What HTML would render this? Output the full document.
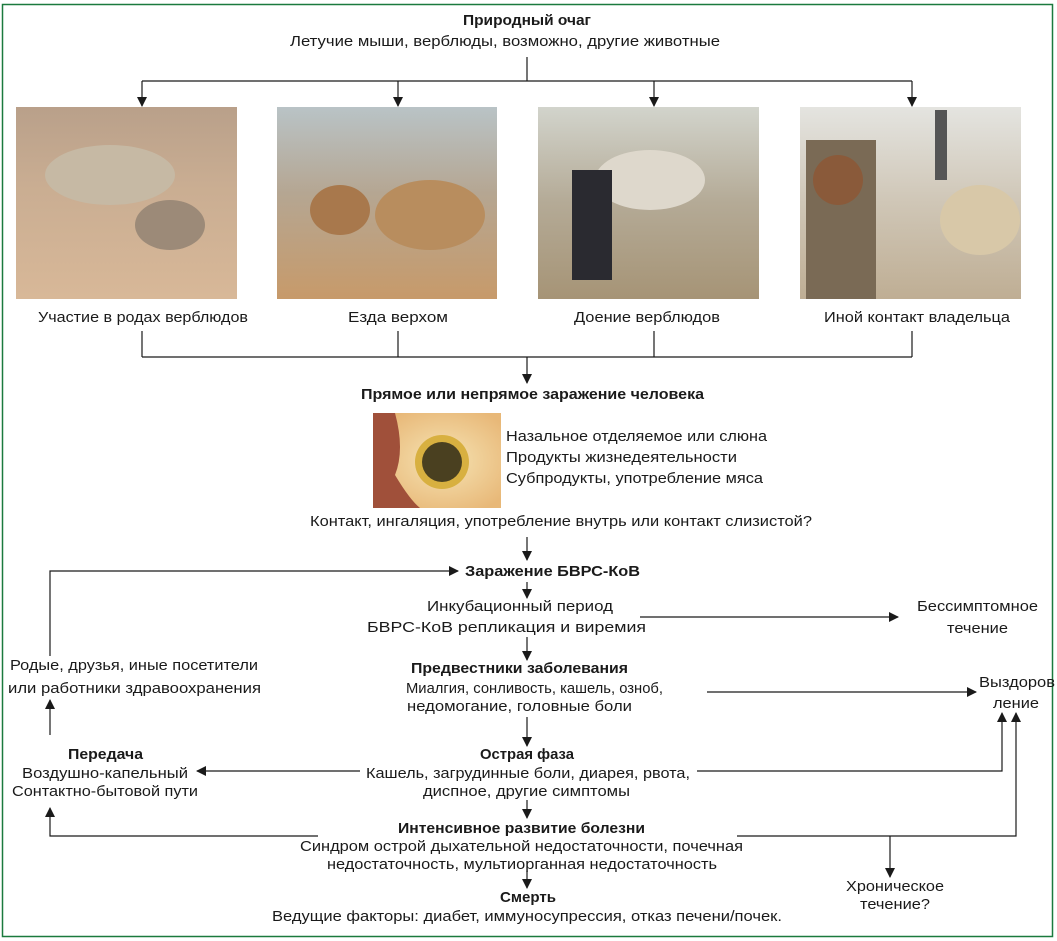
<!DOCTYPE html>
<html><head><meta charset="utf-8"><style>
html,body{margin:0;padding:0;background:#fff;width:1057px;height:941px;overflow:hidden}
text{font-family:"Liberation Sans","DejaVu Sans",sans-serif;font-size:15px;fill:#1a1a1a}
.b{font-weight:bold}
</style></head><body>
<svg width="1057" height="941" viewBox="0 0 1057 941" xmlns="http://www.w3.org/2000/svg">
<defs>
<marker id="a" markerWidth="10" markerHeight="10" refX="9" refY="5" orient="auto" markerUnits="userSpaceOnUse"><path d="M0,0 L10,5 L0,10 z" fill="#1a1a1a"/></marker>
<linearGradient id="g1" x1="0" y1="0" x2="0" y2="1"><stop offset="0" stop-color="#b9a08a"/><stop offset="0.4" stop-color="#c9ad92"/><stop offset="1" stop-color="#d8b898"/></linearGradient>
<linearGradient id="g2" x1="0" y1="0" x2="0" y2="1"><stop offset="0" stop-color="#b9c3c6"/><stop offset="0.45" stop-color="#b5a692"/><stop offset="1" stop-color="#c79a6a"/></linearGradient>
<linearGradient id="g3" x1="0" y1="0" x2="0" y2="1"><stop offset="0" stop-color="#d2d4cc"/><stop offset="0.5" stop-color="#b4aa96"/><stop offset="1" stop-color="#a69476"/></linearGradient>
<linearGradient id="g4" x1="0" y1="0" x2="0" y2="1"><stop offset="0" stop-color="#e4e4e0"/><stop offset="0.5" stop-color="#cfc6b6"/><stop offset="1" stop-color="#bfae94"/></linearGradient>
<radialGradient id="v" cx="0.55" cy="0.5" r="0.6"><stop offset="0" stop-color="#f6e4b4"/><stop offset="1" stop-color="#e8b878"/></radialGradient>
</defs>
<rect x="2.5" y="4.5" width="1050" height="932" fill="none" stroke="#1b7a3e" stroke-width="1.5"/>
<g stroke="#1a1a1a" stroke-width="1.2" fill="none">
<path d="M527,57 V81 M142,81 H912"/>
<path d="M142,81 V106" marker-end="url(#a)"/>
<path d="M398,81 V106" marker-end="url(#a)"/>
<path d="M654,81 V106" marker-end="url(#a)"/>
<path d="M912,81 V106" marker-end="url(#a)"/>
<path d="M142,331 V357 M398,331 V357 M654,331 V357 M912,331 V357 M142,357 H912"/>
<path d="M527,357 V383" marker-end="url(#a)"/>
<path d="M527,537 V560" marker-end="url(#a)"/>
<path d="M50,656 V571 H458" marker-end="url(#a)"/>
<path d="M527,582 V598" marker-end="url(#a)"/>
<path d="M640,617 H898" marker-end="url(#a)"/>
<path d="M527,637 V660" marker-end="url(#a)"/>
<path d="M707,692 H976" marker-end="url(#a)"/>
<path d="M50,735 V700" marker-end="url(#a)"/>
<path d="M527,717 V746" marker-end="url(#a)"/>
<path d="M360,771 H197" marker-end="url(#a)"/>
<path d="M697,771 H1002 V713" marker-end="url(#a)"/>
<path d="M527,800 V818" marker-end="url(#a)"/>
<path d="M318,836 H50 V808" marker-end="url(#a)"/>
<path d="M737,836 H1016 V713" marker-end="url(#a)"/>
<path d="M890,836 V877" marker-end="url(#a)"/>
<path d="M527,871 V888" marker-end="url(#a)"/>
</g>
<rect x="16" y="107" width="221" height="192" fill="url(#g1)"/>
<ellipse cx="110" cy="175" rx="65" ry="30" fill="#c6b9a4"/><ellipse cx="170" cy="225" rx="35" ry="25" fill="#9c8a78"/>
<rect x="277" y="107" width="220" height="192" fill="url(#g2)"/>
<ellipse cx="430" cy="215" rx="55" ry="35" fill="#b88d5e"/><ellipse cx="340" cy="210" rx="30" ry="25" fill="#a8784c"/>
<rect x="538" y="107" width="221" height="192" fill="url(#g3)"/>
<ellipse cx="650" cy="180" rx="55" ry="30" fill="#ded8cc"/><rect x="572" y="170" width="40" height="110" fill="#2a2a30"/>
<rect x="800" y="107" width="221" height="192" fill="url(#g4)"/>
<rect x="806" y="140" width="70" height="159" fill="#7a6a55"/><circle cx="838" cy="180" r="25" fill="#8a5a3a"/><ellipse cx="980" cy="220" rx="40" ry="35" fill="#d8c8a8"/><rect x="935" y="110" width="12" height="70" fill="#555"/>
<rect x="373" y="413" width="128" height="95" fill="url(#v)"/>
<path d="M373,413 H395 Q405,450 395,475 Q410,500 420,508 H373 Z" fill="#a0503a"/>
<circle cx="442" cy="462" r="27" fill="#d8b040"/><circle cx="442" cy="462" r="20" fill="#4a4020"/>
<text x="463" y="25" class="b" textLength="128" lengthAdjust="spacingAndGlyphs">Природный очаг</text>
<text x="290" y="46" textLength="430" lengthAdjust="spacingAndGlyphs">Летучие мыши, верблюды, возможно, другие животные</text>
<text x="38" y="322" textLength="210" lengthAdjust="spacingAndGlyphs">Участие в родах верблюдов</text>
<text x="348" y="322" textLength="100" lengthAdjust="spacingAndGlyphs">Езда верхом</text>
<text x="574" y="322" textLength="146" lengthAdjust="spacingAndGlyphs">Доение верблюдов</text>
<text x="824" y="322" textLength="186" lengthAdjust="spacingAndGlyphs">Иной контакт владельца</text>
<text x="361" y="399" class="b" textLength="343" lengthAdjust="spacingAndGlyphs">Прямое или непрямое заражение человека</text>
<text x="506" y="441" textLength="261" lengthAdjust="spacingAndGlyphs">Назальное отделяемое или слюна</text>
<text x="506" y="462" textLength="231" lengthAdjust="spacingAndGlyphs">Продукты жизнедеятельности</text>
<text x="506" y="483" textLength="257" lengthAdjust="spacingAndGlyphs">Субпродукты, употребление мяса</text>
<text x="310" y="526" textLength="502" lengthAdjust="spacingAndGlyphs">Контакт, ингаляция, употребление внутрь или контакт слизистой?</text>
<text x="465" y="576" class="b" textLength="175" lengthAdjust="spacingAndGlyphs">Заражение БВРС-КоВ</text>
<text x="427" y="611" textLength="186" lengthAdjust="spacingAndGlyphs">Инкубационный период</text>
<text x="367" y="632" textLength="279" lengthAdjust="spacingAndGlyphs">БВРС-КоВ репликация и виремия</text>
<text x="917" y="611" textLength="121" lengthAdjust="spacingAndGlyphs">Бессимптомное</text>
<text x="947" y="633" textLength="61" lengthAdjust="spacingAndGlyphs">течение</text>
<text x="979" y="687" textLength="76" lengthAdjust="spacingAndGlyphs">Выздоров</text>
<text x="993" y="708" textLength="46" lengthAdjust="spacingAndGlyphs">ление</text>
<text x="411" y="673" class="b" textLength="217" lengthAdjust="spacingAndGlyphs">Предвестники заболевания</text>
<text x="406" y="693" textLength="257" lengthAdjust="spacingAndGlyphs">Миалгия, сонливость, кашель, озноб,</text>
<text x="407" y="711" textLength="225" lengthAdjust="spacingAndGlyphs">недомогание, головные боли</text>
<text x="10" y="670" textLength="248" lengthAdjust="spacingAndGlyphs">Родые, друзья, иные посетители</text>
<text x="8" y="693" textLength="253" lengthAdjust="spacingAndGlyphs">или работники здравоохранения</text>
<text x="480" y="759" class="b" textLength="94" lengthAdjust="spacingAndGlyphs">Острая фаза</text>
<text x="366" y="778" textLength="324" lengthAdjust="spacingAndGlyphs">Кашель, загрудинные боли, диарея, рвота,</text>
<text x="423" y="796" textLength="207" lengthAdjust="spacingAndGlyphs">диспное, другие симптомы</text>
<text x="68" y="759" class="b" textLength="75" lengthAdjust="spacingAndGlyphs">Передача</text>
<text x="22" y="778" textLength="166" lengthAdjust="spacingAndGlyphs">Воздушно-капельный</text>
<text x="12" y="796" textLength="186" lengthAdjust="spacingAndGlyphs">Сонтактно-бытовой пути</text>
<text x="398" y="833" class="b" textLength="247" lengthAdjust="spacingAndGlyphs">Интенсивное развитие болезни</text>
<text x="300" y="851" textLength="443" lengthAdjust="spacingAndGlyphs">Синдром острой дыхательной недостаточности, почечная</text>
<text x="327" y="869" textLength="390" lengthAdjust="spacingAndGlyphs">недостаточность, мультиорганная недостаточность</text>
<text x="846" y="891" textLength="98" lengthAdjust="spacingAndGlyphs">Хроническое</text>
<text x="860" y="909" textLength="70" lengthAdjust="spacingAndGlyphs">течение?</text>
<text x="500" y="902" class="b" textLength="56" lengthAdjust="spacingAndGlyphs">Смерть</text>
<text x="272" y="921" textLength="510" lengthAdjust="spacingAndGlyphs">Ведущие факторы: диабет, иммуносупрессия, отказ печени/почек.</text>
</svg>
</body></html>
